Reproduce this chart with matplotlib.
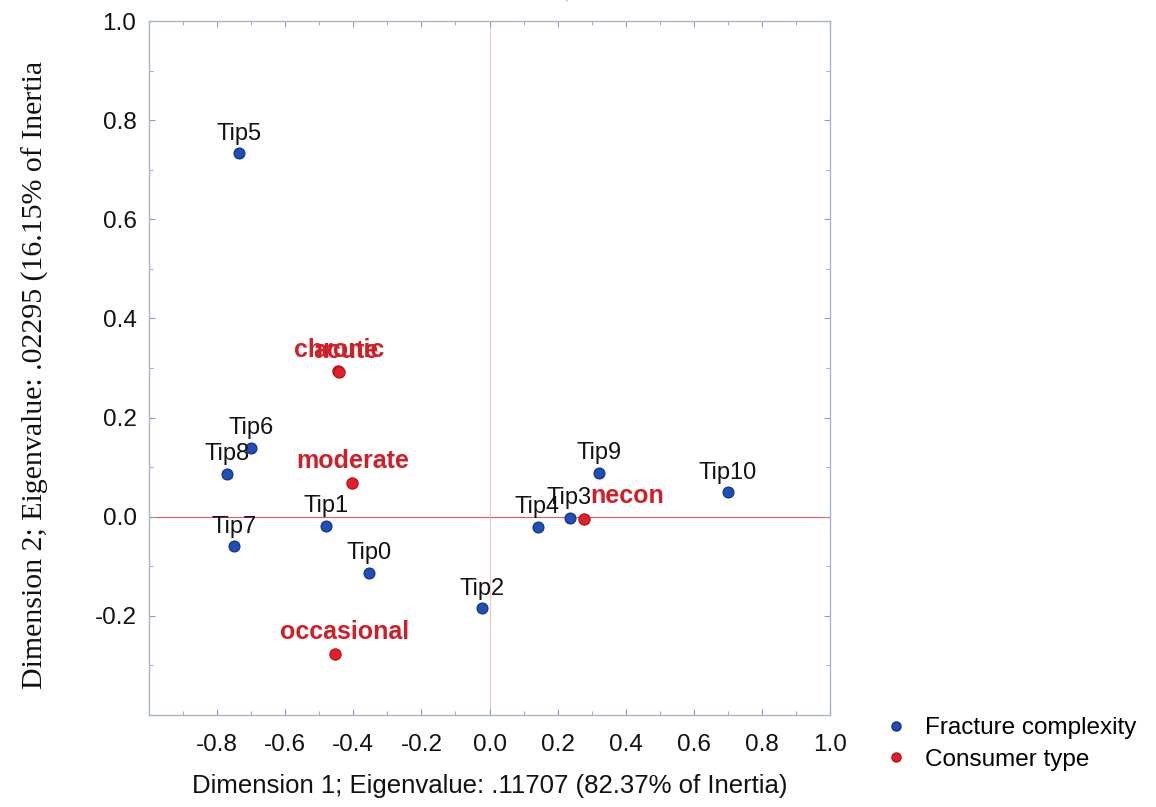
import numpy as np
import matplotlib; matplotlib.use("Agg"); import matplotlib.pyplot as plt
from matplotlib.ticker import MultipleLocator, FixedLocator
from matplotlib.lines import Line2D

plt.rcParams['font.family'] = ['Liberation Sans', 'DejaVu Sans']

# row coordinates: fracture complexity categories
tip_names = ["Tip0", "Tip1", "Tip2", "Tip3", "Tip4", "Tip5", "Tip6", "Tip7", "Tip8", "Tip9", "Tip10"]
tip_dim1 = [-0.353, -0.479, -0.021, 0.235, 0.141, -0.735, -0.700, -0.750, -0.771, 0.321, 0.700]
tip_dim2 = [-0.113, -0.018, -0.184, -0.002, -0.020, 0.733, 0.139, -0.059, 0.087, 0.089, 0.049]

# column coordinates: consumer type
cons_names = ["chronic", "acute", "moderate", "occasional", "necon"]
cons_dim1 = [-0.446, -0.442, -0.403, -0.453, 0.277]
cons_dim2 = [0.293, 0.291, 0.069, -0.277, -0.004]

# label nudges (points) where the default "centered above" is off
nudge = {"chronic": (1, 0), "acute": (5, 0), "occasional": (7, 0), "necon": (31, 1)}

blue = "#1e4fb4"
red = "#e3202a"
txt_red = "#d01f27"

fig = plt.figure(figsize=(11.56, 8.07), dpi=100)
ax = fig.add_axes([149/1156, 92/807, 681/1156, 694/807])

ax.axhline(0, color="#e05a5a", lw=0.8, zorder=1)
ax.axvline(0, color="#e8c8cc", lw=0.8, zorder=1)

ax.scatter(tip_dim1, tip_dim2, s=62, c=blue, edgecolors="#0f2f80", linewidths=0.8, zorder=3)
ax.scatter(cons_dim1, cons_dim2, s=66, c=red, edgecolors="#b01018", linewidths=0.8, zorder=3)

for n, x, y in zip(tip_names, tip_dim1, tip_dim2):
    ax.annotate(n, (x, y), xytext=(0, 6), textcoords="offset points",
                ha="center", va="bottom", fontsize=17, color="#111111", zorder=4)
for n, x, y in zip(cons_names, cons_dim1, cons_dim2):
    dx, dy = nudge.get(n, (0, 0))
    ax.annotate(n, (x, y), xytext=(dx, 7 + dy), textcoords="offset points",
                ha="center", va="bottom", fontsize=18, color=txt_red,
                fontweight="bold", zorder=4)

ax.set_xlim(-1.0, 1.0)
ax.set_ylim(-0.4, 1.0)
ax.xaxis.set_major_locator(FixedLocator(np.round(np.arange(-0.8, 1.01, 0.2), 1)))
ax.yaxis.set_major_locator(FixedLocator(np.round(np.arange(-0.2, 1.01, 0.2), 1)))
ax.xaxis.set_minor_locator(MultipleLocator(0.1))
ax.yaxis.set_minor_locator(MultipleLocator(0.1))
fmt = plt.FuncFormatter(lambda v, p: f"{v + 0.0:.1f}" if abs(v) > 1e-9 else "0.0")
ax.xaxis.set_major_formatter(fmt)
ax.yaxis.set_major_formatter(fmt)
ax.tick_params(which="both", direction="in", top=True, right=True, color="#9a9a9a",
               labelsize=17.5, labelcolor="#111111")
ax.tick_params(which="major", length=4, width=0.8)
ax.tick_params(which="minor", length=3, width=0.6)
ax.tick_params(axis="x", pad=14)
ax.tick_params(axis="y", pad=9)
for s in ax.spines.values():
    s.set_color("#a8b4c8"); s.set_linewidth(1.0)

ax.set_xlabel("Dimension 1; Eigenvalue: .11707 (82.37% of Inertia)", fontsize=18.5,
              color="#111111", labelpad=13)
fig.text(35/1156, 1 - 375/807, "Dimension 2; Eigenvalue: .02295 (16.15% of Inertia",
         rotation=90, ha="center", va="center", fontsize=21.5,
         family=["Liberation Serif", "DejaVu Serif"], color="#111111")

# plot title, mostly above the top edge
fig.text(0.41, 1.008, "2D Plot of Row and Column Coordinates; Dimension: 1 x 2",
         ha="center", va="center", fontsize=13, color="#999999")

handles = [Line2D([], [], ls="none", marker="o", ms=6.5, mfc=blue, mec="#0f2f80", label="Fracture complexity"),
           Line2D([], [], ls="none", marker="o", ms=6.5, mfc=red, mec="#b01018", label="Consumer type")]
fig.legend(handles=handles, loc="center left", bbox_to_anchor=(862/1156, 1 - 744/807),
           frameon=False, fontsize=17.5, handletextpad=0.7, labelspacing=0.4, handlelength=1.0)

fig.savefig("out.png", dpi=100, facecolor="white")
